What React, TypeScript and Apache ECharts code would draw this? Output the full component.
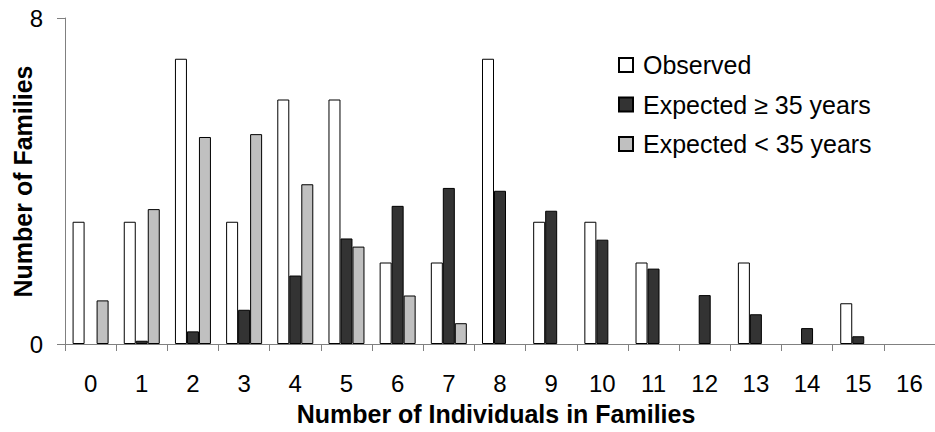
import React, { useEffect, useRef } from "react";
import * as echarts from "echarts";

const categories = ["0", "1", "2", "3", "4", "5", "6", "7", "8", "9", "10", "11", "12", "13", "14", "15", "16"];
const observed = [3, 3, 7, 3, 6, 6, 2, 2, 7, 3, 3, 2, 0, 2, 0, 1, 0];
const expectedOld = [0, 0.08, 0.31, 0.84, 1.68, 2.59, 3.39, 3.83, 3.76, 3.27, 2.56, 1.85, 1.2, 0.73, 0.39, 0.19, 0];
const expectedYoung = [1.07, 3.31, 5.08, 5.15, 3.92, 2.39, 1.19, 0.51, 0, 0, 0, 0, 0, 0, 0, 0, 0];
const seriesNames = ["Observed", "Expected \u2265 35 years", "Expected < 35 years"];
const xTitle = "Number of Individuals in Families";
const yTitle = "Number of Families";

const FONT = "'Liberation Sans', Arial, sans-serif";

export default function App() {
  const ref = useRef<HTMLDivElement>(null);
  useEffect(() => {
    if (!ref.current) return;
    const chart = echarts.init(ref.current, null, { renderer: "svg" });
    const axisGrey = "#808080";
    const mkSeries = (name: string, data: number[], color: string) => ({
      name,
      type: "bar",
      // zero values draw no bar in the reference
      data: data.map((v) => (v === 0 ? "-" : v)),
      barWidth: 12,
      barGap: "0%",
      itemStyle: { color, borderColor: "#000", borderWidth: 1 },
    });
    chart.setOption({
      animation: false,
      textStyle: { fontFamily: FONT },
      grid: { left: 65, top: 18, width: 874, height: 326, containLabel: false },
      legend: {
        orient: "vertical",
        left: 613,
        top: 47,
        icon: "rect",
        itemWidth: 14,
        itemHeight: 14,
        itemGap: 13.5,
        textStyle: { fontSize: 25, color: "#000", fontFamily: FONT, lineHeight: 26, padding: [0, 0, 0, 5] },
        data: seriesNames,
      },
      xAxis: {
        type: "category",
        data: categories,
        boundaryGap: true,
        axisLine: { lineStyle: { color: axisGrey, width: 1 } },
        axisTick: { show: true, length: 7, interval: 0, lineStyle: { color: axisGrey } },
        axisLabel: { interval: 0, fontSize: 24, color: "#000", margin: 27, fontFamily: FONT },
      },
      yAxis: {
        type: "value",
        min: 0,
        max: 8,
        interval: 8,
        splitLine: { show: false },
        axisLine: { show: true, lineStyle: { color: axisGrey, width: 1 } },
        axisTick: { show: true, length: 8, lineStyle: { color: axisGrey } },
        axisLabel: { fontSize: 24, color: "#000", margin: 22, fontFamily: FONT },
      },
      graphic: [
        {
          type: "text",
          x: 496,
          y: 414,
          style: {
            text: xTitle,
            font: `bold 25px ${FONT}`,
            fill: "#000",
            align: "center",
            verticalAlign: "middle",
          },
        },
        {
          type: "text",
          x: 23,
          y: 181.5,
          rotation: Math.PI / 2,
          style: {
            text: yTitle,
            font: `bold 25px ${FONT}`,
            fill: "#000",
            align: "center",
            verticalAlign: "middle",
          },
        },
      ],
      series: [
        mkSeries(seriesNames[0], observed, "#ffffff"),
        mkSeries(seriesNames[1], expectedOld, "#333333"),
        mkSeries(seriesNames[2], expectedYoung, "#c0c0c0"),
      ],
    });
    return () => chart.dispose();
  }, []);
  return (
    <div
      ref={ref}
      style={{ position: "fixed", left: 0, top: 0, width: 935, height: 432, background: "#fff" }}
    />
  );
}
